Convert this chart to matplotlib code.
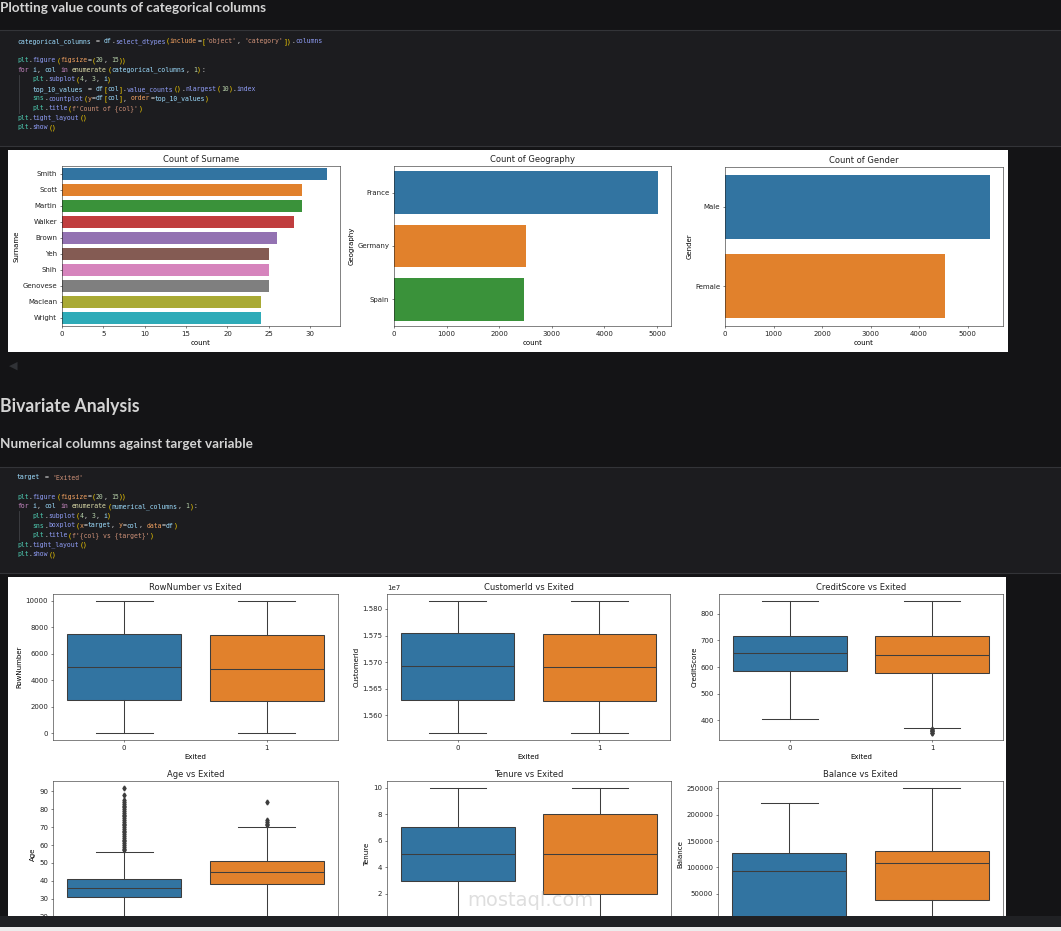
import re
import matplotlib
matplotlib.use("Agg")
import matplotlib.pyplot as plt
from matplotlib.patches import Rectangle

# Data
surnames = ['Smith', 'Scott', 'Martin', 'Walker', 'Brown', 'Yeh', 'Shih', 'Genovese', 'Maclean', 'Wright']
surname_counts = [32, 29, 29, 28, 26, 25, 25, 25, 24, 24]
geographies = ['France', 'Germany', 'Spain']
geography_counts = [5014, 2509, 2477]
genders = ['Male', 'Female']
gender_counts = [5457, 4543]

exited_groups = ['0', '1']
box_features = ['RowNumber', 'CustomerId', 'CreditScore', 'Age', 'Tenure', 'Balance']
box_lo = [[1, 1], [15565701, 15565701], [405, 372], [18, 18], [0, 0], [0, 0]]
box_q1 = [[2534, 2436], [15628900, 15627000], [585, 578], [31, 38], [3, 2], [0, 38340]]
box_med = [[5038, 4865], [15691700, 15690000], [652, 646], [36, 45], [5, 5], [92400, 109350]]
box_q3 = [[7519, 7398], [15754000, 15752800], [718, 716], [41, 51], [7, 8], [126400, 131430]]
box_hi = [[10000, 10000], [15815690, 15815690], [850, 850], [56, 70], [10, 10], [221533, 250898]]
credit_fliers_exited = [350, 351, 358, 359, 363, 365]
age_fliers_stayed = [57, 58, 59, 60, 61, 62, 63, 64, 65, 66, 67, 68, 69, 70, 71, 72, 73, 74,
                     75, 76, 77, 78, 79, 80, 81, 82, 83, 84, 85, 88, 92]
age_fliers_exited = [71, 72, 73, 74, 84]
box_fliers = [[[], []], [[], []], [[], credit_fliers_exited],
              [age_fliers_stayed, age_fliers_exited], [[], []], [[], []]]
box_ticks = [[0, 2000, 4000, 6000, 8000, 10000],
             [15600000, 15650000, 15700000, 15750000, 15800000],
             [400, 500, 600, 700, 800],
             [20, 30, 40, 50, 60, 70, 80, 90],
             [0, 2, 4, 6, 8, 10],
             [0, 50000, 100000, 150000, 200000, 250000]]

code_cell_1 = [
    "categorical_columns = df.select_dtypes(include=['object', 'category']).columns",
    "",
    "plt.figure(figsize=(20, 15))",
    "for i, col in enumerate(categorical_columns, 1):",
    "    plt.subplot(4, 3, i)",
    "    top_10_values = df[col].value_counts().nlargest(10).index",
    "    sns.countplot(y=df[col], order=top_10_values)",
    "    plt.title(f'Count of {col}')",
    "plt.tight_layout()",
    "plt.show()",
]
code_cell_2 = [
    "target = 'Exited'",
    "",
    "plt.figure(figsize=(20, 15))",
    "for i, col in enumerate(numerical_columns, 1):",
    "    plt.subplot(4, 3, i)",
    "    sns.boxplot(x=target, y=col, data=df)",
    "    plt.title(f'{col} vs {target}')",
    "plt.tight_layout()",
    "plt.show()",
]

palette = ['#3274a1', '#e1812c', '#3a923a', '#c03d3e', '#9372b2',
           '#845b53', '#d684bd', '#7f7f7f', '#a9aa35', '#2eabb8']
GRAY = '#3d3d3d'
BG = '#141416'
CELL_BG = '#1c1c1f'
CELL_LINE = '#333438'
HEAD = '#d4d4d4'

plt.rcParams.update({
    'font.size': 5, 'axes.titlesize': 6, 'axes.labelsize': 5,
    'xtick.labelsize': 5, 'ytick.labelsize': 5,
    'xtick.major.size': 1.75, 'ytick.major.size': 1.75,
    'xtick.major.pad': 1.75, 'ytick.major.pad': 1.75,
    'xtick.major.width': 0.4, 'ytick.major.width': 0.4,
    'axes.linewidth': 0.4, 'axes.titlepad': 3, 'axes.labelpad': 2,
    'axes.edgecolor': '#222222', 'text.color': '#222222',
    'xtick.color': '#222222', 'ytick.color': '#222222',
})

W, H = 1061, 931
fig = plt.figure(figsize=(W / 100, H / 100), dpi=100)
fig.patch.set_facecolor(BG)


def rect_px(l, t, r, b, color, z=-1):
    fig.add_artist(Rectangle((l / W, 1 - b / H), (r - l) / W, (b - t) / H,
                             transform=fig.transFigure, facecolor=color,
                             edgecolor='none', zorder=z))


def hline_px(x0, x1, y, color, lw=0.8):
    fig.add_artist(plt.Line2D([x0 / W, x1 / W], [1 - y / H, 1 - y / H],
                              transform=fig.transFigure, color=color, lw=lw))


def vline_px(x, y0, y1, color, lw=0.6):
    fig.add_artist(plt.Line2D([x / W, x / W], [1 - y0 / H, 1 - y1 / H],
                              transform=fig.transFigure, color=color, lw=lw))


def ax_px(l, t, r, b):
    return fig.add_axes([l / W, 1 - b / H, (r - l) / W, (b - t) / H])


renderer = fig.canvas.get_renderer()


def heading(s, y, target_w):
    t = fig.text(0, 1 - y / H, s, fontsize=12, fontweight='bold', family='Lato',
                 color=HEAD, va='center', ha='left')
    bb = t.get_window_extent(renderer)
    t.set_fontsize(12 * target_w / bb.width)


# code cells: tokens on a whole-pixel monospace grid, all on one baseline
CODE_X, LINE_H, CHAR_W = 17, 9.6, 3.92
CODE_FS = CHAR_W / 0.6021 * 0.72
BASE_SHIFT = 2.2
TOKEN_RE = r"f?'[^']*'|\d+|[A-Za-z_]\w*|\s+|."


def token_color(tok, line, start, end):
    if tok.startswith("'") or tok.startswith("f'"):
        return '#ce9178'
    if tok.isdigit():
        return '#b5cea8'
    if tok in ('for', 'in'):
        return '#c586c0'
    if re.match(r"[A-Za-z_]", tok):
        if start > 0 and line[start - 1] == '.':
            return '#8f9cf5'
        if end < len(line) and line[end] == '=':
            return '#f0a060'
        if tok in ('plt', 'sns'):
            return '#4ec9b0'
        if end < len(line) and line[end] == '(':
            return '#dcdcaa'
        return '#9cdcfe'
    if tok in '()[]{}':
        return '#ffd700'
    return '#d4d4d4'


def code_cell(lines, top, bottom, y0, guide):
    rect_px(0, top, W, bottom, CELL_BG)
    hline_px(0, W, top, CELL_LINE)
    hline_px(0, W, bottom, CELL_LINE)
    vline_px(19, guide[0], guide[1], '#404246')
    for i, line in enumerate(lines):
        y = y0 + i * LINE_H + BASE_SHIFT
        # merge neighbouring tokens of the same colour into one run
        runs = []
        for m in re.finditer(TOKEN_RE, line):
            tok = m.group()
            if tok.isspace():
                continue
            c = token_color(tok, line, m.start(), m.end())
            if runs and runs[-1][2] == c and runs[-1][1] == m.start():
                runs[-1][1] = m.end()
            else:
                runs.append([m.start(), m.end(), c])
        for s, e, c in runs:
            fig.text((CODE_X + s * CHAR_W) / W, 1 - y / H, line[s:e],
                     family='DejaVu Sans Mono', fontsize=CODE_FS, color=c,
                     va='baseline', ha='left')


heading('Plotting value counts of categorical columns', 7.5, 264)
code_cell(code_cell_1, 30, 146, 40.7, (75, 113))
fig.text(13 / W, 1 - 366 / H, '\u25C0', fontsize=8, color='#303236',
         va='center', ha='center')
heading('Bivariate Analysis', 406.5, 138)
heading('Numerical columns against target variable', 444, 251)
code_cell(code_cell_2, 467, 573, 477.3, (511, 540))

# output panels
rect_px(8, 150, 1008, 352, 'white')
rect_px(8, 577, 1006, 916, 'white')

# count plots
bar_specs = [
    ('Surname', surnames, surname_counts, (62, 166, 340, 326), [0, 5, 10, 15, 20, 25, 30]),
    ('Geography', geographies, geography_counts, (394, 166, 671, 326), [0, 1000, 2000, 3000, 4000, 5000]),
    ('Gender', genders, gender_counts, (725, 167, 1003, 326), [0, 1000, 2000, 3000, 4000, 5000]),
]
for name, cats, counts, box, xt in bar_specs:
    ax = ax_px(*box)
    pos = list(range(len(cats)))
    ax.barh(pos, counts, height=0.8, color=palette[:len(cats)])
    ax.set_yticks(pos)
    ax.set_yticklabels(cats)
    ax.set_ylim(len(cats) - 0.5, -0.5)
    ax.set_xlim(0, max(counts) * 1.05)
    ax.set_xticks(xt)
    ax.set_xlabel('count')
    ax.set_ylabel(name)
    ax.set_title(f'Count of {name}')

# box plots (second row runs past the bottom of the screenshot)
box_boxes = [(53, 594, 338, 740), (387, 594, 670, 740), (719, 594, 1003, 740),
             (53, 781, 338, 927), (387, 781, 671, 927), (718, 781, 1003, 927)]
for k, name in enumerate(box_features):
    ax = ax_px(*box_boxes[k])
    stats = []
    for g in range(2):
        stats.append({'whislo': box_lo[k][g], 'q1': box_q1[k][g], 'med': box_med[k][g],
                      'q3': box_q3[k][g], 'whishi': box_hi[k][g],
                      'fliers': box_fliers[k][g], 'label': exited_groups[g]})
    lw = 0.75
    art = ax.bxp(stats, positions=[0, 1], widths=0.8, capwidths=0.4, patch_artist=True,
                 boxprops=dict(edgecolor=GRAY, linewidth=lw),
                 whiskerprops=dict(color=GRAY, linewidth=lw),
                 capprops=dict(color=GRAY, linewidth=lw),
                 medianprops=dict(color=GRAY, linewidth=lw),
                 flierprops=dict(marker='d', markerfacecolor=GRAY, markeredgecolor=GRAY,
                                 markersize=2.5, linestyle='none'))
    for g, patch in enumerate(art['boxes']):
        patch.set_facecolor(palette[g])
    ax.set_xlim(-0.5, 1.5)
    ax.set_yticks(box_ticks[k])
    ax.set_ylabel(name)
    ax.set_title(f'{name} vs Exited')
    if k < 3:
        ax.set_xlabel('Exited')
    else:
        ax.tick_params(axis='x', labelbottom=False)

# watermark
fig.text(530 / W, 1 - 900 / H, 'mostaql.com', fontsize=14, color='#c4c4c4',
         alpha=0.55, ha='center', va='center', zorder=5)

# notebook chrome at the bottom, cutting off the second row of plots
rect_px(0, 916, W, 927, '#202124', z=10)
rect_px(0, 927, W, H, '#ececec', z=10)

fig.savefig('out.png', dpi=100, facecolor=fig.get_facecolor())
